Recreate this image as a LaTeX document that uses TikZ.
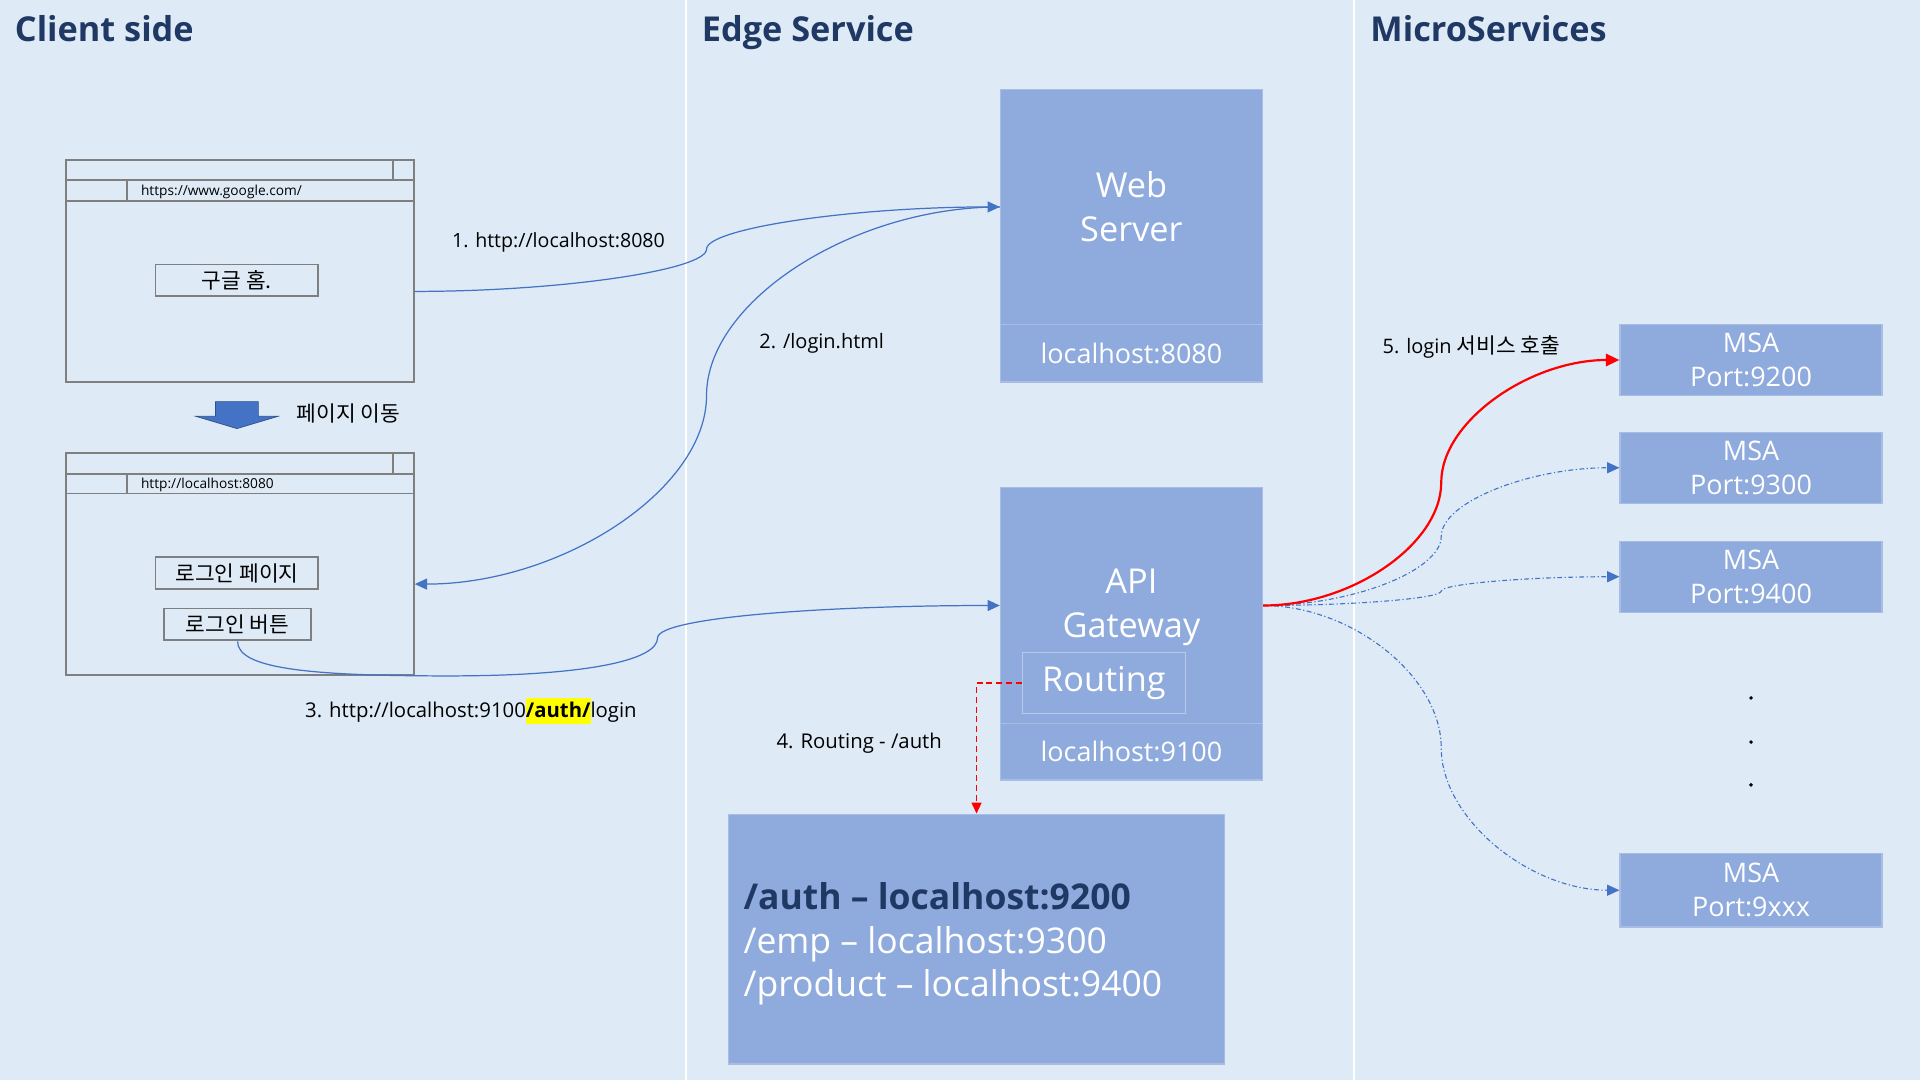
\documentclass[tikz,border=0pt]{standalone}
\usepackage{fontspec}
\setmainfont{Open Sans}
\newfontfamily\kr{Noto Sans CJK KR}
\usetikzlibrary{arrows.meta,calc}
\definecolor{bg}{HTML}{DEEBF7}
\definecolor{navy}{HTML}{1F3864}
\definecolor{boxfill}{HTML}{8FAADC}
\definecolor{boxedge}{HTML}{A9BDE4}
\definecolor{inedge}{HTML}{B8CAEA}
\definecolor{gline}{HTML}{7F7F7F}
\definecolor{cblue}{HTML}{4472C4}
\definecolor{aedge}{HTML}{2F528F}
\definecolor{hl}{HTML}{FFFF00}
\definecolor{cred}{HTML}{FF0000}
\begin{document}
\begin{tikzpicture}[x=1pt,y=-1pt,
  title/.style={anchor=base west,text=navy,font=\fontsize{28}{32}\selectfont\bfseries,inner sep=0},
  lbl/.style={anchor=base west,font=\fontsize{16.3}{19}\selectfont,inner sep=0},
  krlbl/.style={anchor=base west,font=\kr\fontsize{17.5}{20}\selectfont,inner sep=0},
  url/.style={anchor=base west,font=\fontsize{11.2}{13}\selectfont,inner sep=0},
  win/.style={draw=gline,line width=1.5pt,minimum width=284pt,minimum height=181pt,inner sep=0},
  btn/.style={draw=gline,line width=1.5pt,minimum height=26pt,inner sep=0,font=\kr\fontsize{17.5}{20}\selectfont},
  svc/.style={draw=boxedge,fill=boxfill,line width=1pt,inner sep=0,text=white,align=center},
  big/.style={font=\fontsize{28}{36}\selectfont},
  port/.style={font=\fontsize{22}{26}\selectfont},
  msa/.style={svc,minimum width=214pt,minimum height=58pt,font=\fontsize{22}{28}\selectfont},
  tbltxt/.style={anchor=base west,inner sep=0,font=\fontsize{29}{35}\selectfont},
  conn/.style={draw=cblue,line width=1pt},
  tipb/.style={-{Triangle[length=10pt,width=9pt]}},
  dd/.style={conn,line width=0.9pt,dash pattern=on 4pt off 2pt on 1pt off 2pt},
  winline/.style={draw=gline,line width=1.5pt}
]
% background and columns
\fill[bg] (0,0) rectangle (1568,882);
\useasboundingbox (0,0) rectangle (1568,882);
\draw[white,line width=1.5pt] (560,0) -- (560,882);
\draw[white,line width=1.5pt] (1106,0) -- (1106,882);

% titles
\node[title] (t1) at (12,34) {Client side};
\node[title] (t2) at (573,34) {Edge Service};
\node[title] (t3) at (1119,34) {MicroServices};

% browser 1
\node[win] (win1) at (196,221.5) {};
\draw[winline] (54,147) -- (338,147);
\draw[winline] (321,131) -- (321,147);
\draw[winline] (54,164) -- (338,164);
\draw[winline] (104,147) -- (104,164);
\node[url] (u1) at (115,160) {https://www.google.com/};
\node[btn,minimum width=133pt] (btn1) at (193.5,229) {구글 홈.};

% page move arrow
\filldraw[fill=cblue,draw=aedge,line width=0.6pt] (176,328) -- (211,328) -- (211,340) -- (227,340) -- (193.5,350) -- (160,340) -- (176,340) -- cycle;
\node[krlbl] (mv) at (242,344) {페이지 이동};

% browser 2
\node[win] (win2) at (196,460.5) {};
\draw[winline] (54,387) -- (338,387);
\draw[winline] (321,370) -- (321,387);
\draw[winline] (54,403) -- (338,403);
\draw[winline] (104,387) -- (104,403);
\node[url] (u2) at (115,399) {http://localhost:8080};
\node[btn,minimum width=133pt] (btn2) at (193.5,468) {로그인 페이지};
\node[btn,minimum width=120pt] (btn3) at (194,510) {로그인 버튼};

% web server
\node[svc,big,minimum width=214pt,minimum height=192pt] (web) at (924,169) {Web\\Server};
\node[svc,port,minimum width=214pt,minimum height=47pt] (webport) at (924,288.5) {localhost:8080};

% api gateway
\node[svc,minimum width=214pt,minimum height=193pt] (api) at (924,494.5) {};
\node[big,text=white,align=center,inner sep=0] (apitxt) at (924,496) {API\\Gateway};
\node[svc,port,minimum width=214pt,minimum height=46pt] (apiport) at (924,614) {localhost:9100};
\node[draw=inedge,line width=1pt,inner sep=0,minimum width=133pt,minimum height=50pt,text=white,font=\fontsize{28}{32}\selectfont] (route) at (901.5,558) {Routing};

% routing table
\node[svc,minimum width=405pt,minimum height=204pt] (tbl) at (797.5,767) {};
\node[tbltxt,text=navy,font=\fontsize{29}{35}\selectfont\bfseries] (r1) at (607,743) {/auth – localhost:9200};
\node[tbltxt,text=white] (r2) at (607,778.5) {/emp – localhost:9300};
\node[tbltxt,text=white] (r3) at (607,814) {/product – localhost:9400};

% microservices
\node[msa] (msa1) at (1430,294) {MSA\\Port:9200};
\node[msa] (msa2) at (1430,382) {MSA\\Port:9300};
\node[msa] (msa3) at (1430,471) {MSA\\Port:9400};
\node[msa,minimum height=60pt] (msa4) at (1430,727) {MSA\\Port:9xxx};
\fill (1430,570) circle (1.6pt);
\fill (1430,606) circle (1.6pt);
\fill (1430,641) circle (1.6pt);

% connector labels
\node[lbl,font=\fontsize{16}{19}\selectfont] (l1) at (369,202) {1. http://localhost:8080};
\node[lbl] (l2) at (620,285) {2. /login.html};
\node[lbl,font=\fontsize{16.6}{19}\selectfont] (l3) at (249,586) {3. http://localhost:9100{\setlength{\fboxsep}{0pt}\colorbox{hl}{\rule[-5pt]{0pt}{21pt}\bfseries /auth/}}login};
\node[lbl,font=\fontsize{16.6}{19}\selectfont] (l4) at (634,611) {4. Routing - /auth};
\node[lbl] (l5) at (1129,289) {5. login {\kr\fontsize{17.5}{20}\selectfont 서비스 호출}};

% connector waypoints
\coordinate (m1) at (577,203.5);
\coordinate (m2) at (577,323);
\coordinate (m3a) at (366,552);
\coordinate (m3b) at (537,521);
\coordinate (m5) at (1177,394);
\coordinate (m6) at (1177,438);
\coordinate (m7) at (1177,482.75);
\coordinate (m8) at (1177,610.75);

% connectors
\draw[conn,tipb] ([yshift=-16.5pt]win1.east) .. controls +(119.5,0) and +(0,17) .. (m1) .. controls +(0,-17) and +(-120,0) .. (web.west);
\draw[conn,tipb] (web.west) .. controls +(-120,0) and +(0,-77) .. (m2) .. controls +(0,77) and +(119.5,0) .. ([yshift=-16.5pt]win2.east);
\draw[conn,tipb] (btn3.south) .. controls +(0,22) and +(-116,0) .. (m3a) .. controls +(114,0) and +(0,18) .. (m3b) .. controls +(0,-17) and +(-140,0) .. (api.west);
\draw[cred,line width=1.5pt,dash pattern=on 5pt off 3pt,-{Triangle[length=9pt,width=8pt]}] (route.west) -| (tbl.north);
\draw[dd,tipb] (api.east) .. controls +(73,0) and +(0,28) .. (m6) .. controls +(0,-28) and +(-73,0) .. (msa2.west);
\draw[dd,tipb] (api.east) .. controls +(73,0) and +(0,6) .. (m7) .. controls +(0,-6) and +(-73,0) .. (msa3.west);
\draw[dd,tipb] (api.east) .. controls +(73,0) and +(0,-58) .. (m8) .. controls +(0,58) and +(-73,0) .. (msa4.west);
\draw[cred,line width=1.8pt,-{Triangle[length=11pt,width=10pt]}] (api.east) .. controls +(73,0) and +(0,50) .. (m5) .. controls +(0,-50) and +(-73,0) .. (msa1.west);
\end{tikzpicture}
\end{document}
